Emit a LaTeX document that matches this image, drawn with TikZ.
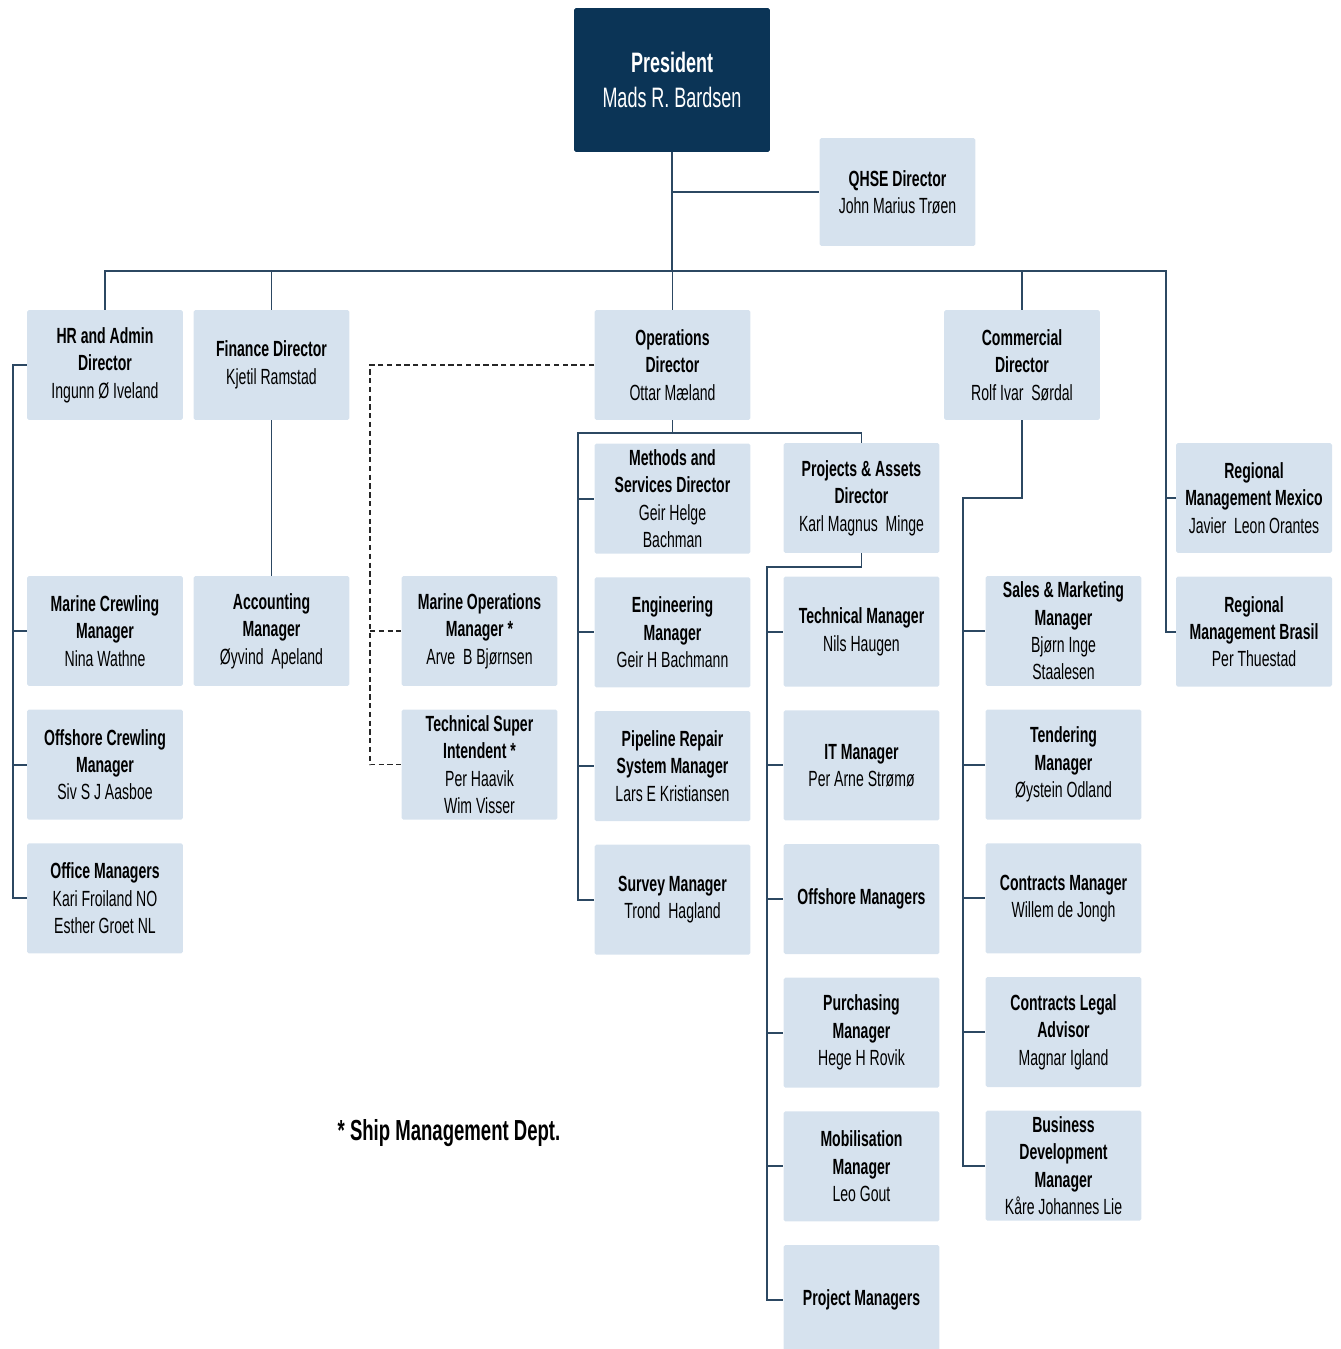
\documentclass[tikz,border=0pt]{standalone}
\usepackage{fontspec}
\setmainfont{Liberation Sans}[FakeStretch=0.64]
\usetikzlibrary{positioning}

\definecolor{boxfill}{RGB}{214,226,238}
\definecolor{navy}{RGB}{11,52,86}
\definecolor{linecol}{RGB}{44,72,98}

\begin{document}
\begin{tikzpicture}[x=0.02cm, y=-0.02cm, node distance=0.46cm,
  unit/.style={rectangle, fill=boxfill, rounded corners=1pt, minimum width=3.12cm, minimum height=2.2cm, align=center, inner xsep=2pt, inner ysep=0pt, font=\fontsize{12.5}{15.6}\selectfont},
  chief/.style={unit, fill=navy, text=white, minimum width=3.92cm, minimum height=2.88cm, font=\fontsize{16}{20}\selectfont},
  link/.style={draw=linecol, line width=1.1pt},
  dotlink/.style={draw=black!85, line width=0.8pt, dash pattern=on 3pt off 2pt}]

\useasboundingbox (0,0) rectangle (1340,1349);

% top
\node[chief] (pres) at (672,80) {\textbf{President}\\Mads R. Bardsen};
\node[unit, minimum height=2.16cm] (qhse) at (897.5,192) {\textbf{QHSE Director}\\John Marius Trøen};

% directors
\node[unit] (hr) at (105,365) {\textbf{HR and Admin}\\\textbf{Director}\\Ingunn Ø Iveland};
\node[unit] (fin) at (271.5,365) {\textbf{Finance Director}\\Kjetil Ramstad};
\node[unit] (ops) at (672.5,365) {\textbf{Operations}\\\textbf{Director}\\Ottar Mæland};
\node[unit] (com) at (1022,365) {\textbf{Commercial}\\\textbf{Director}\\Rolf Ivar\ \ Sørdal};

% HR and finance
\node[unit] (crew) at (105,631) {\textbf{Marine Crewling}\\\textbf{Manager}\\Nina Wathne};
\node[unit, below=of crew] (offcrew) {\textbf{Offshore Crewling}\\\textbf{Manager}\\Siv S J Aasboe};
\node[unit, below=of offcrew] (office) {\textbf{Office Managers}\\Kari Froiland NO\\Esther Groet NL};
\node[unit] (acc) at (271.5,631) {\textbf{Accounting}\\\textbf{Manager}\\Øyvind\ \ Apeland};

% ship management
\node[unit] (marops) at (479.5,631) {\textbf{Marine Operations}\\\textbf{Manager *}\\Arve\ \ B Bjørnsen};
\node[unit, below=of marops] (super) {\textbf{Technical Super}\\\textbf{Intendent *}\\Per Haavik\\Wim Visser};

% operations
\node[unit, below=of ops] (meth) {\textbf{Methods and}\\\textbf{Services Director}\\Geir Helge\\Bachman};
\node[unit, below=of meth] (eng) {\textbf{Engineering}\\\textbf{Manager}\\Geir H Bachmann};
\node[unit, below=of eng] (pipe) {\textbf{Pipeline Repair}\\\textbf{System Manager}\\Lars E Kristiansen};
\node[unit, below=of pipe] (survey) {\textbf{Survey Manager}\\Trond\ \ Hagland};

% projects
\node[unit] (proj) at (861.5,498) {\textbf{Projects \& Assets}\\\textbf{Director}\\Karl Magnus\ \ Minge};
\node[unit, below=of proj] (tech) {\textbf{Technical Manager}\\Nils Haugen};
\node[unit, below=of tech] (itm) {\textbf{IT Manager}\\Per Arne Strømø};
\node[unit, below=of itm] (offm) {\textbf{Offshore Managers}};
\node[unit, below=of offm] (purch) {\textbf{Purchasing}\\\textbf{Manager}\\Hege H Rovik};
\node[unit, below=of purch] (mobil) {\textbf{Mobilisation}\\\textbf{Manager}\\Leo Gout};
\node[unit, below=of mobil] (pm) {\textbf{Project Managers}};

% commercial
\node[unit] (sales) at (1063.5,631) {\textbf{Sales \& Marketing}\\\textbf{Manager}\\Bjørn Inge\\Staalesen};
\node[unit, below=of sales] (tender) {\textbf{Tendering}\\\textbf{Manager}\\Øystein Odland};
\node[unit, below=of tender] (contr) {\textbf{Contracts Manager}\\Willem de Jongh};
\node[unit, below=of contr] (legal) {\textbf{Contracts Legal}\\\textbf{Advisor}\\Magnar Igland};
\node[unit, below=of legal] (bizdev) {\textbf{Business}\\\textbf{Development}\\\textbf{Manager}\\Kåre Johannes Lie};

% regional
\node[unit] (mexico) at (1254,498) {\textbf{Regional}\\\textbf{Management Mexico}\\Javier\ \ Leon Orantes};
\node[unit, below=of mexico] (brasil) {\textbf{Regional}\\\textbf{Management Brasil}\\Per Thuestad};

\node[font=\bfseries\fontsize{16.5}{18}\selectfont] (note) at (449,1133) {* Ship Management Dept.};

% connectors
\coordinate (rbus) at (1166,271);
\coordinate (hrx) at (13,0);
\coordinate (dx) at (370,0);
\coordinate (obus) at (578,433);
\coordinate (pbus) at (767,567);
\coordinate (cbus) at (963,498);

\draw[link] (pres.south) -- (pres.south |- rbus);
\draw[link] (pres.south |- qhse.west) -- (qhse.west);
\draw[link] (hr.north) |- (rbus) |- (brasil.west);
\draw[link] (rbus |- mexico.west) -- (mexico.west);
\foreach \n in {fin, ops, com}
  \draw[link] (\n.north) -- (\n.north |- rbus);

\draw[link] (hr.west) -| (hrx |- office.west) -- (office.west);
\foreach \n in {crew, offcrew}
  \draw[link] (hrx |- \n.west) -- (\n.west);
\draw[link] (fin.south) -- (acc.north);

\draw[dotlink] (ops.west) -| (dx |- super.west) -- (super.west);
\draw[dotlink] (dx |- marops.west) -- (marops.west);

\draw[link] (ops.south) -- (ops.south |- obus);
\draw[link] (survey.west) -| (obus) -| (proj.north);
\foreach \n in {meth, eng, pipe}
  \draw[link] (obus |- \n.west) -- (\n.west);

\draw[link] (proj.south) |- (pbus) |- (pm.west);
\foreach \n in {tech, itm, offm, purch, mobil}
  \draw[link] (pbus |- \n.west) -- (\n.west);

\draw[link] (com.south) |- (cbus) |- (bizdev.west);
\foreach \n in {sales, tender, contr, legal}
  \draw[link] (cbus |- \n.west) -- (\n.west);

\end{tikzpicture}
\end{document}
